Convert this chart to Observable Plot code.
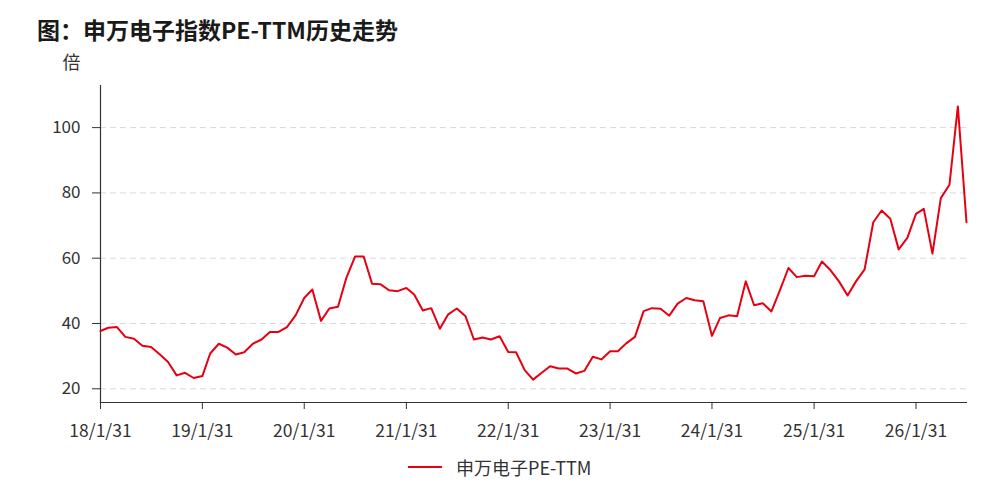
<!DOCTYPE html>
<html>
<head>
<meta charset="utf-8">
<script src="https://cdn.jsdelivr.net/npm/d3@7"></script>
<script src="https://cdn.jsdelivr.net/npm/@observablehq/plot@0.6"></script>
<style>
  html, body { margin: 0; padding: 0; background: #fff; }
  body { width: 1000px; height: 491px; position: relative; overflow: hidden; font-family: "Noto Sans CJK SC", "Noto Sans", sans-serif; color: #333; }
  #title { position: absolute; left: 37px; top: 19px; font-size: 23px; font-weight: bold; color: #1a1a1a; line-height: 20px; height: 20px; white-space: nowrap; }
  #chart { position: absolute; left: 0; top: 38px; }
  #legend { position: absolute; left: 408px; top: 455px; height: 24px; display: flex; align-items: center; font-size: 18px; color: #333; }
  #legend .sw { width: 34px; height: 2px; background: #e60012; margin-right: 14px; }
</style>
</head>
<body>
<div id="title">图：申万电子指数PE-TTM历史走势</div>
<div id="chart"></div>
<div id="legend"><span class="sw"></span><span>申万电子PE-TTM</span></div>
<script>
// Monthly PE-TTM of the SW Electronics index, Jan 2018 onward (month-end)
const seriesName = "申万电子PE-TTM";
const startYear = 2018;
const peTTM = [
  37.7, 38.7, 38.9, 35.9, 35.3, 33.2, 32.8, 30.6, 28.2, 24.1, 24.9, 23.3,
  23.9, 30.8, 33.8, 32.6, 30.5, 31.2, 33.8, 35.1, 37.4, 37.4, 38.9, 42.5,
  47.8, 50.4, 40.8, 44.6, 45.1, 54.0, 60.5, 60.5, 52.2, 52.0, 50.2, 49.9,
  50.9, 48.9, 44.0, 44.7, 38.4, 42.8, 44.6, 42.2, 35.1, 35.7, 35.1, 36.1,
  31.3, 31.2, 25.7, 22.8, 24.9, 26.9, 26.2, 26.2, 24.7, 25.5, 29.8, 29.0,
  31.5, 31.5, 34.0, 35.9, 43.8, 44.7, 44.5, 42.4, 46.1, 47.8, 47.1, 46.8,
  36.2, 41.7, 42.5, 42.2, 52.9, 45.6, 46.2, 43.7, 50.1, 57.0, 54.2, 54.6,
  54.5, 59.0, 56.3, 52.9, 48.6, 52.9, 56.6, 71.0, 74.6, 72.1, 62.7, 66.2,
  73.6, 75.1, 61.4, 78.4, 82.5, 106.5, 71.0
];
const yTicks = [20, 40, 60, 80, 100];
const xTickYears = [2018, 2019, 2020, 2021, 2022, 2023, 2024, 2025, 2026];
const yUnit = "倍";

// month-end dates for each observation
const monthEnd = (y, m) => new Date(Date.UTC(y, m + 1, 0));
const data = peTTM.map((v, i) => ({ date: monthEnd(startYear, i), value: v }));
const xTicks = xTickYears.map(y => monthEnd(y, 0));
const fmt = d => `${String(d.getUTCFullYear()).slice(2)}/${d.getUTCMonth() + 1}/${d.getUTCDate()}`;

const chart = Plot.plot({
  width: 1000,
  height: 410,
  marginTop: 47,
  marginBottom: 46,
  marginLeft: 100,
  marginRight: 34,
  style: { fontFamily: "'Noto Sans CJK SC', 'Noto Sans', sans-serif", fontSize: "17px", color: "#333", background: "transparent" },
  x: { type: "utc", domain: [data[0].date, data[data.length - 1].date] },
  y: { domain: [15.8, 112.9] },
  marks: [
    Plot.gridY(yTicks, { stroke: "#d9d9d9", strokeOpacity: 1, strokeDasharray: "6,4", strokeWidth: 1 }),
    Plot.frame({ anchor: "left", stroke: "#333", strokeWidth: 1.2 }),
    Plot.frame({ anchor: "bottom", stroke: "#333", strokeWidth: 1.2 }),
    Plot.axisY(yTicks, { tickSize: 8, tickPadding: 12, label: null, fontSize: 17, stroke: "#333" }),
    Plot.axisX(xTicks, { tickSize: 7, tickPadding: 15, label: null, tickFormat: fmt, fontSize: 17.5, stroke: "#333" }),
    Plot.lineY(data, { x: "date", y: "value", stroke: "#e60012", strokeWidth: 2 }),
    Plot.text([yUnit], { frameAnchor: "top-left", dx: -38, dy: -29, fontSize: 18, fill: "#333" })
  ]
});
document.getElementById("chart").appendChild(chart);
</script>
</body>
</html>
